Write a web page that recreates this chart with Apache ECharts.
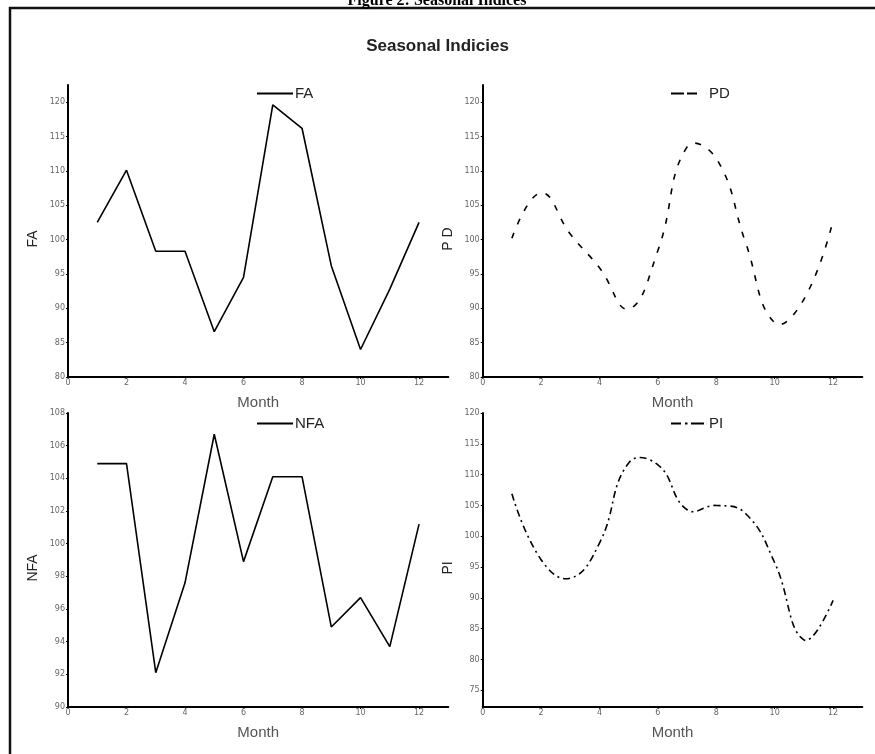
<!DOCTYPE html>
<html><head><meta charset="utf-8">
<script src="https://cdn.jsdelivr.net/npm/echarts@6/dist/echarts.min.js"></script>
<style>html,body{margin:0;padding:0;background:#fff;}#c{width:875px;height:754px;}</style>
</head><body><div id="c"></div>
<script>
// ---- data ----
const months = [1, 2, 3, 4, 5, 6, 7, 8, 9, 10, 11, 12];
const faValues  = [102.5, 110.1, 98.3, 98.3, 86.6, 94.5, 119.6, 116.2, 96.2, 84.0, 92.8, 102.5];
const pdValues  = [100.2, 106.8, 100.8, 95.9, 89.9, 98.4, 113.5, 111.8, 99.6, 87.9, 91.3, 102.8];
const nfaValues = [104.9, 104.9, 92.1, 97.6, 106.7, 98.9, 104.1, 104.1, 94.9, 96.7, 93.7, 101.2];
const piValues  = [106.9, 96.2, 93.2, 98.9, 111.9, 111.6, 104.3, 105.0, 103.7, 95.7, 83.2, 89.6];
const xTicks    = [0, 2, 4, 6, 8, 10, 12];
const topYTicks = [80, 85, 90, 95, 100, 105, 110, 115, 120];
const nfaYTicks = [90, 92, 94, 96, 98, 100, 102, 104, 106, 108];
const piYTicks  = [75, 80, 85, 90, 95, 100, 105, 110, 115, 120];

const pairs = vals => months.map((m, i) => [m, vals[i]]);
const SANS = '"Liberation Sans", Arial, sans-serif';

function xAxisCfg(gridIndex) {
  return {
    type: 'value', gridIndex, min: 0, max: 13,
    name: 'Month', nameLocation: 'middle', nameGap: 18,
    nameTextStyle: { fontSize: 15, color: '#555', fontFamily: SANS },
    axisLine: { show: true, lineStyle: { color: '#000', width: 2 } },
    axisTick: { show: true, length: 2, customValues: xTicks, lineStyle: { color: '#000' } },
    axisLabel: { customValues: xTicks, fontSize: 8, color: '#666', margin: 2, fontFamily: '"DejaVu Sans", sans-serif' },
    splitLine: { show: false }
  };
}
function yAxisCfg(gridIndex, name, min, max, ticks) {
  return {
    type: 'value', gridIndex, min, max,
    name, nameLocation: 'middle', nameGap: 28,
    nameTextStyle: { fontSize: 14, color: '#222', fontFamily: SANS, padding: [0, 16, 0, 0] },
    axisLine: { show: true, lineStyle: { color: '#000', width: 2 } },
    axisTick: { show: true, length: 2, customValues: ticks, lineStyle: { color: '#000' } },
    axisLabel: { customValues: ticks, fontSize: 8, color: '#666', margin: 3, fontFamily: '"DejaVu Sans", sans-serif' },
    splitLine: { show: false }
  };
}
function curveRenderer(dash) {
  return function (params, api) {
    if (params.dataIndexInside !== 0) return null;
    const pts = [];
    for (let i = 0; i < params.dataInsideLength; i++) {
      pts.push(api.coord([api.value(0, i), api.value(1, i)]));
    }
    return {
      type: 'polyline',
      shape: { points: pts, smooth: 0.45 },
      style: { stroke: '#000', fill: null, lineWidth: 1.6, lineDash: dash }
    };
  };
}
function legendCfg(name, icon, left, top) {
  return {
    data: [{ name, icon }], left, top, padding: 0, itemWidth: 36, itemHeight: 2,
    textStyle: { fontSize: 15, color: '#222', fontFamily: SANS, padding: [0, 0, 0, -3] },
    selectedMode: false
  };
}
const SOLID_ICON = 'path://M0,0h36v2h-36z';
const DASH_ICON = 'path://M0,0h13v2h-13zM16,0h10v2h-10zM35.9,0h0.1v2h-0.1z';
const DASHDOT_ICON = 'path://M0,0h10v2h-10zM14,0h2.5v2h-2.5zM20,0h13v2h-13zM35.9,0h0.1v2h-0.1z';

const chart = echarts.init(document.getElementById('c'), null, { renderer: 'canvas' });
chart.setOption({
  animation: false,
  backgroundColor: '#fff',
  title: {
    text: 'Seasonal Indicies', left: 'center', top: 33,
    textStyle: { fontSize: 17, fontWeight: 'bold', color: '#222', fontFamily: '"Liberation Sans Narrow", "Liberation Sans", sans-serif' }
  },
  graphic: [
    { type: 'polyline', silent: true, shape: { points: [[10, 754], [10, 8], [875, 8]] }, style: { stroke: '#111', lineWidth: 2.5, fill: null } },
    { type: 'text', silent: true, x: 437, y: 9, style: { text: 'Figure 2: Seasonal Indices', font: 'bold 16px "Liberation Serif", serif', fill: '#000', textAlign: 'center', textVerticalAlign: 'bottom' } }
  ],
  legend: [
    legendCfg('FA', SOLID_ICON, 257, 86),
    legendCfg('PD', DASH_ICON, 671, 86),
    legendCfg('NFA', SOLID_ICON, 257, 416),
    legendCfg('PI', DASHDOT_ICON, 671, 416)
  ],
  grid: [
    { left: 68, top: 85, width: 380.3, height: 292 },
    { left: 482.7, top: 85, width: 379.6, height: 292 },
    { left: 68, top: 413, width: 380.3, height: 294 },
    { left: 482.7, top: 413, width: 379.6, height: 294 }
  ],
  xAxis: [xAxisCfg(0), xAxisCfg(1), xAxisCfg(2), xAxisCfg(3)],
  yAxis: [
    yAxisCfg(0, 'FA', 80, 122.5, topYTicks),
    yAxisCfg(1, 'P D', 80, 122.5, topYTicks),
    yAxisCfg(2, 'NFA', 90, 108, nfaYTicks),
    yAxisCfg(3, 'PI', 72.3, 120, piYTicks)
  ],
  series: [
    { name: 'FA', type: 'line', xAxisIndex: 0, yAxisIndex: 0, data: pairs(faValues), symbol: 'none',
      lineStyle: { color: '#000', width: 1.6 }, itemStyle: { color: '#000' } },
    { name: 'PD', type: 'custom', xAxisIndex: 1, yAxisIndex: 1, data: pairs(pdValues),
      renderItem: curveRenderer([6, 9]), itemStyle: { color: '#000' } },
    { name: 'NFA', type: 'line', xAxisIndex: 2, yAxisIndex: 2, data: pairs(nfaValues), symbol: 'none',
      lineStyle: { color: '#000', width: 1.6 }, itemStyle: { color: '#000' } },
    { name: 'PI', type: 'custom', xAxisIndex: 3, yAxisIndex: 3, data: pairs(piValues),
      renderItem: curveRenderer([7, 4, 2, 4]), itemStyle: { color: '#000' } }
  ]
});
</script>
</body></html>
